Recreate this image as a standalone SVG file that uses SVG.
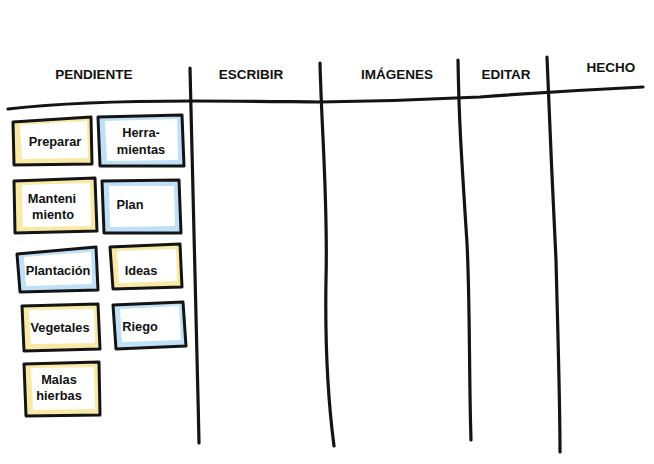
<svg xmlns="http://www.w3.org/2000/svg" width="654" height="464" viewBox="0 0 654 464">
<style>
.ln{fill:none;stroke:#141414;stroke-width:3.2;stroke-linecap:round;stroke-linejoin:round}
.hd{font-family:"Liberation Sans",Arial,sans-serif;font-weight:bold;font-size:13.5px;fill:#111;text-anchor:middle}
.ct{font-family:"Liberation Sans",Arial,sans-serif;font-weight:bold;font-size:12.8px;fill:#111;text-anchor:middle}
.y{fill:#f8eaa6;stroke:#141414;stroke-width:3;stroke-linejoin:round}
.b{fill:#bfe0f6;stroke:#141414;stroke-width:3;stroke-linejoin:round}
.w{fill:#ffffff;stroke:none}
</style>
<rect width="654" height="464" fill="#ffffff"/>
<g id="connectors">
<path class="ln" d="M8,109 C60,103 140,101 192,101 C260,101 300,102 320,102 C400,101 440,99 480,97 C520,94 560,91 643,87"/>
<path class="ln" d="M190,68 C191,150 196,300 199,443"/>
<path class="ln" d="M320,63 C322,140 328,200 326,280 C325,340 328,400 334,446"/>
<path class="ln" d="M458,60 C459,120 461,150 467,243 C470,300 469,380 471,440"/>
<path class="ln" d="M547,57 C549,110 553,200 556,260 C558,340 560,400 560,452"/>
</g>
<g id="headers">
<text class="hd" x="94" y="79">PENDIENTE</text>
<text class="hd" x="251" y="79">ESCRIBIR</text>
<text class="hd" x="397" y="79">IMÁGENES</text>
<text class="hd" x="506" y="79">EDITAR</text>
<text class="hd" x="611" y="72">HECHO</text>
</g>
<g id="card-preparar">
<polygon class="y" points="13,122 91,117 92,164 14,165"/>
<polygon class="w" points="20,125 87,121 88,158 22,159"/>
<text class="ct" x="55" y="146">Preparar</text>
</g>
<g id="card-herramientas">
<polygon class="b" points="98,117 182,115 184,166 100,166"/>
<polygon class="w" points="105,121 177,119 178,160 107,161"/>
<text class="ct" x="141" y="137">Herra-</text>
<text class="ct" x="141" y="154">mientas</text>
</g>
<g id="card-mantenimiento">
<polygon class="y" points="14,181 95,178 97,231 15,233"/>
<polygon class="w" points="22,185 90,183 91,226 23,227"/>
<text class="ct" x="52" y="203">Manteni</text>
<text class="ct" x="53" y="219">miento</text>
</g>
<g id="card-plan">
<polygon class="b" points="102,181 179,180 181,233 104,233"/>
<polygon class="w" points="109,186 174,186 175,226 110,227"/>
<text class="ct" x="130" y="209">Plan</text>
</g>
<g id="card-plantacion">
<polygon class="b" points="17,254 96,247 98,290 20,292"/>
<polygon class="w" points="24,257 91,252 92,284 26,286"/>
<text class="ct" x="58" y="275">Plantación</text>
</g>
<g id="card-ideas">
<polygon class="y" points="110,247 180,244 182,287 113,289"/>
<polygon class="w" points="117,251 176,249 177,281 119,283"/>
<text class="ct" x="141" y="275">Ideas</text>
</g>
<g id="card-vegetales">
<polygon class="y" points="22,306 98,304 100,349 24,351"/>
<polygon class="w" points="29,310 94,309 95,343 31,344"/>
<text class="ct" x="60" y="332">Vegetales</text>
</g>
<g id="card-riego">
<polygon class="b" points="113,305 183,302 186,346 116,349"/>
<polygon class="w" points="120,309 179,306 181,340 122,342"/>
<text class="ct" x="140" y="331">Riego</text>
</g>
<g id="card-malas-hierbas">
<polygon class="y" points="24,364 99,362 100,415 26,416"/>
<polygon class="w" points="31,368 94,367 95,409 33,410"/>
<text class="ct" x="59" y="384">Malas</text>
<text class="ct" x="59" y="400">hierbas</text>
</g>
</svg>
